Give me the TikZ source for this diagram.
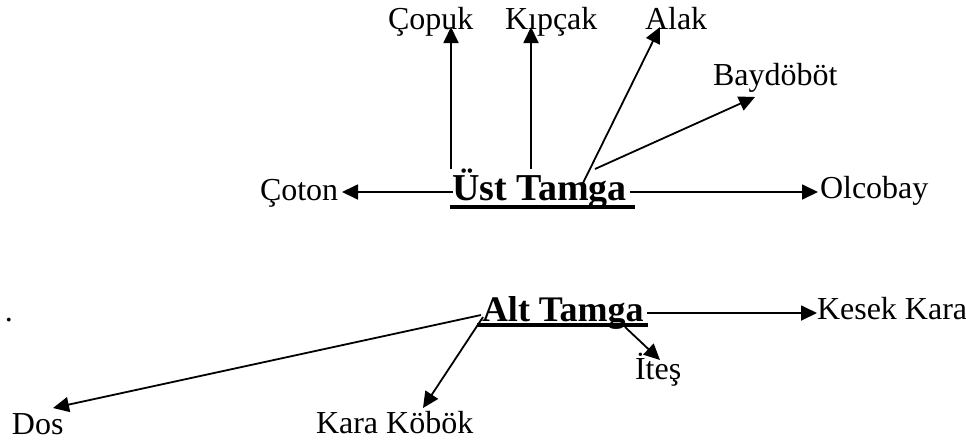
\documentclass[tikz,border=0pt]{standalone}
\usepackage{fontspec}
\setmainfont{Liberation Serif}
\usetikzlibrary{arrows.meta}
\begin{document}
\begin{tikzpicture}[x=1pt,y=-1pt,
  lbl/.style={inner sep=0pt,outer sep=0pt,anchor=base west,font=\fontsize{32}{38}\selectfont},
  hub/.style={inner sep=0pt,outer sep=0pt,anchor=base west,font=\fontsize{36}{42}\selectfont\bfseries},
  arr/.style={line width=1.8pt,-{Triangle[length=16pt,width=15pt]}},
  uline/.style={line width=4pt}]
\useasboundingbox (0,0) rectangle (966,445);
% texts
\node[hub,font=\fontsize{38}{44}\selectfont\bfseries] (ust) at (452,200) {Üst Tamga};
\node[hub] (alt) at (482,321) {Alt Tamga};
\node[lbl] (copuk) at (388,29) {Çopuk};
\node[lbl] (kipcak) at (505,29) {Kıpçak};
\node[lbl] (alak) at (645,29) {Alak};
\node[lbl] (baydobot) at (713,85) {Baydöböt};
\node[lbl] (coton) at (260,200) {Çoton};
\node[lbl] (olcobay) at (820,198) {Olcobay};
\node[lbl] (kesek) at (817,319) {Kesek Kara};
\node[lbl] (ites) at (635,379) {İteş};
\node[lbl] (dos) at (12,434) {Dos};
\node[lbl] (karakobok) at (316,433) {Kara Köbök};
\node[lbl] (dot) at (5,321) {.};
% underlines
\draw[uline] ([shift={(-2,6.5)}]ust.base west) -- ([shift={(183,6.5)}]ust.base west);
\draw[uline] ([shift={(-5,4)}]alt.base west) -- ([shift={(166,4)}]alt.base west);
% upper arrows
\draw[arr] ([shift={(-1,-31)}]ust.base west) -- ([shift={(63,-2)}]copuk.base west);
\draw[arr] ([shift={(79,-31)}]ust.base west) -- ([shift={(26,-2)}]kipcak.base west);
\draw[arr] ([shift={(131,-17)}]ust.base west) -- ([shift={(15,-2)}]alak.base west);
\draw[arr] ([shift={(143,-31)}]ust.base west) -- ([shift={(42,12)}]baydobot.base west);
\draw[arr] ([shift={(1,-8)}]ust.base west) -- ([shift={(82,-8)}]coton.base west);
\draw[arr] ([shift={(178,-8)}]ust.base west) -- ([shift={(-2,-6)}]olcobay.base west);
% lower arrows
\draw[arr] ([shift={(165,-8)}]alt.base west) -- ([shift={(0,-6)}]kesek.base west);
\draw[arr] ([shift={(-1,-6)}]alt.base west) -- ([shift={(41,-26)}]dos.base west);
\draw[arr] ([shift={(1,-4)}]alt.base west) -- ([shift={(107,-25)}]karakobok.base west);
\draw[arr] ([shift={(143,6)}]alt.base west) -- ([shift={(25,-19)}]ites.base west);
\end{tikzpicture}
\end{document}
